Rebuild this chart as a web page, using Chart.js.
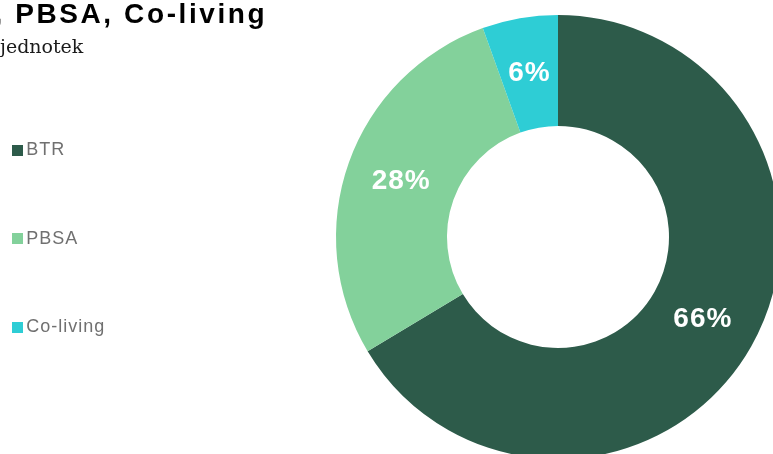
<!DOCTYPE html>
<html>
<head>
<meta charset="utf-8">
<script src="https://cdn.jsdelivr.net/npm/chart.js@4"></script>
<style>
html, body { margin: 0; padding: 0; background: #fff; overflow: hidden; width: 773px; height: 454px; }
#title { position: absolute; left: -5.6px; top: -0.4px; font: bold 28px "Liberation Sans", Arial, sans-serif; letter-spacing: 2.6px; color: #000; line-height: 28px; white-space: nowrap; z-index: 2; }
#subtitle { position: absolute; left: 0px; top: 36.9px; font: 19px "DejaVu Serif", Georgia, serif; color: #1a1a1a; line-height: 19px; white-space: nowrap; z-index: 2; }
#c { position: absolute; left: 0; top: 0; }
</style>
</head>
<body>
<div id="title">, PBSA, Co-living</div>
<div id="subtitle">jednotek</div>
<canvas id="c" width="1020" height="470"></canvas>
<script>
// ---- data ----
const categories = ['BTR', 'PBSA', 'Co-living'];
const shares = [66.4, 28.1, 5.5];
// ---- styles ----
const colors = ['#2D5B4A', '#83D19B', '#2ECDD5'];

const total = shares.reduce((a, b) => a + b, 0);

function swatch(color) {
  const c = document.createElement('canvas');
  c.width = 11; c.height = 11;
  const x = c.getContext('2d');
  x.fillStyle = color;
  x.fillRect(0, 0, 11, 11);
  return c;
}
const swatches = colors.map(swatch);

const spacingPlugin = {
  id: 'letterSpacing',
  beforeDraw(chart) { chart.ctx.letterSpacing = '1px'; },
  beforeDatasetsDraw(chart) { chart.ctx.letterSpacing = '0px'; }
};

const sliceLabels = {
  id: 'sliceLabels',
  afterDatasetsDraw(chart) {
    const ctx = chart.ctx;
    const meta = chart.getDatasetMeta(0);
    ctx.save();
    ctx.letterSpacing = '1px';
    ctx.font = 'bold 28px "Liberation Sans", Arial, sans-serif';
    ctx.fillStyle = '#ffffff';
    ctx.textAlign = 'center';
    ctx.textBaseline = 'middle';
    meta.data.forEach((arc, i) => {
      const p = arc.tooltipPosition();
      const v = chart.data.datasets[0].data[i];
      ctx.fillText(Math.round(v / total * 100) + '%', p.x, p.y);
    });
    ctx.restore();
  }
};

new Chart(document.getElementById('c'), {
  type: 'doughnut',
  data: {
    labels: categories,
    datasets: [{
      data: shares,
      backgroundColor: colors,
      borderWidth: 0,
      hoverOffset: 0,
      offset: 0
    }]
  },
  options: {
    responsive: false,
    animation: false,
    cutout: '50%',
    rotation: 0,
    layout: { padding: { left: -53.8, right: 9.2, top: 15, bottom: 11 } },
    events: [],
    plugins: {
      tooltip: { enabled: false },
      legend: {
        position: 'left',
        align: 'center',
        maxWidth: 159,
        title: { display: true, text: ' ', font: { size: 3, lineHeight: 1.2 }, padding: 0 },
        labels: {
          usePointStyle: true,
          boxWidth: 0.6,
          padding: 70.5,
          color: '#707070',
          font: { family: '"Liberation Sans", Arial, sans-serif', size: 18 },
          generateLabels(chart) {
            const items = Chart.overrides.doughnut.plugins.legend.labels.generateLabels(chart);
            items.forEach((it, i) => { it.pointStyle = swatches[i]; it.fontColor = '#707070'; });
            return items;
          }
        }
      }
    }
  },
  plugins: [spacingPlugin, sliceLabels]
});
</script>
</body>
</html>
